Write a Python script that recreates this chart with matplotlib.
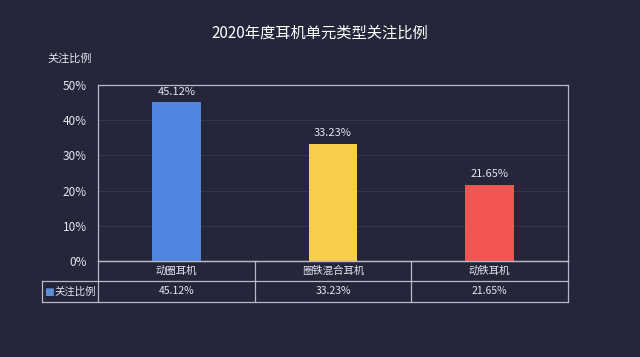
import matplotlib.pyplot as plt
from matplotlib.lines import Line2D

plt.rcParams['font.family'] = ['Noto Sans CJK SC', 'DejaVu Sans']

# data
categories = ['动圈耳机', '圈铁混合耳机', '动铁耳机']
values = [45.12, 33.23, 21.65]
valueLabels = ['45.12%', '33.23%', '21.65%']
seriesName = '关注比例'
barColors = ['#5284E2', '#F8CD4B', '#F25654']
yTicks = [0, 10, 20, 30, 40, 50]

bg = '#25263A'
fg = '#E6E6EE'
edge = '#B8BAC8'

W, H = 640, 357
fig = plt.figure(figsize=(W/100., H/100.), dpi=100, facecolor=bg)

def fx(px):
    return px/float(W)
def fy(py):
    return 1 - py/float(H)

left, right, top, bottom = 98, 568, 85, 261
ax = fig.add_axes([fx(left), fy(bottom), fx(right)-fx(left), fy(top)-fy(bottom)])
ax.set_facecolor(bg)
n = len(categories)
xs = range(n)
ax.bar(xs, values, width=0.31, color=barColors, zorder=3)
for x, v, lab in zip(xs, values, valueLabels):
    ax.text(x, v + 1.6, lab, ha='center', va='bottom', color=fg, fontsize=8)
ax.set_xlim(-0.5, n-0.5)
ax.set_ylim(0, 50)
ax.set_yticks(yTicks)
ax.set_yticklabels(['%d%%' % t for t in yTicks], color=fg, fontsize=8.5)
ax.set_xticks([])
ax.tick_params(axis='y', length=0, pad=8)
for t in yTicks[1:-1]:
    ax.axhline(t, color='#34364B', linewidth=0.8, zorder=1)
for s in ax.spines.values():
    s.set_color(edge)
    s.set_linewidth(0.9)

# title and axis name
fig.text(0.5, fy(33), '2020年度耳机单元类型关注比例', ha='center', va='center', color='#FFFFFF', fontsize=11)
fig.text(fx(47), fy(59), seriesName, ha='left', va='center', color=fg, fontsize=8)

# data table below the chart
rowTop, rowMid, rowBot = 261, 281, 302
tableLeft = 42
colW = (right - left)/float(n)

def hline(y, x0, x1):
    fig.add_artist(Line2D([fx(x0), fx(x1)], [fy(y), fy(y)], color=edge, linewidth=0.9))
def vline(x, y0, y1):
    fig.add_artist(Line2D([fx(x), fx(x)], [fy(y0), fy(y1)], color=edge, linewidth=0.9))

hline(rowTop, left, right)
hline(rowMid, tableLeft, right)
hline(rowBot, tableLeft, right)
vline(tableLeft, rowMid, rowBot)
for i in range(n + 1):
    vline(left + i*colW, rowTop, rowBot)
for i, (cat, lab) in enumerate(zip(categories, valueLabels)):
    cx = left + (i + 0.5)*colW
    fig.text(fx(cx), fy((rowTop + rowMid)/2.), cat, ha='center', va='center', color=fg, fontsize=7.5)
    fig.text(fx(cx), fy((rowMid + rowBot)/2.), lab, ha='center', va='center', color=fg, fontsize=7.5)
fig.text(fx(44), fy((rowMid + rowBot)/2.), '■', ha='left', va='center', color='#5B8ED6', fontsize=7.5, family='DejaVu Sans')
fig.text(fx(54), fy((rowMid + rowBot)/2.), seriesName, ha='left', va='center', color=fg, fontsize=7.5)

fig.savefig('out.png', dpi=100, facecolor=bg)
